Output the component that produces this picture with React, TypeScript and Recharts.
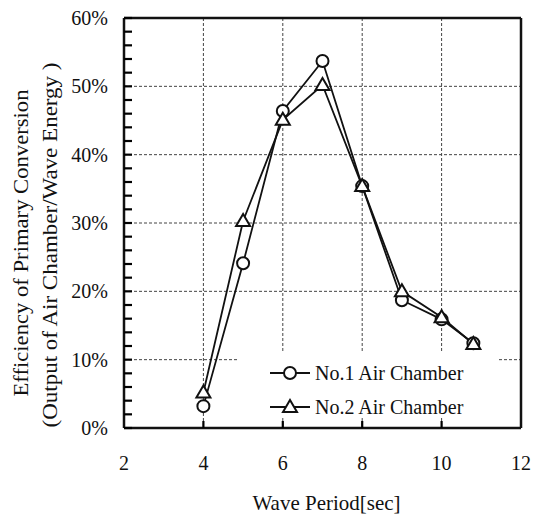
import React from "react";
import {
  CartesianGrid,
  Legend,
  Line,
  LineChart,
  ReferenceLine,
  XAxis,
  YAxis,
} from "recharts";

// wave period [sec]
const periods = [4, 5, 6, 7, 8, 9, 10, 10.8];
// efficiency of primary conversion [%]
const chamber1 = [3.2, 24.1, 46.4, 53.7, 35.4, 18.7, 15.9, 12.4];
const chamber2 = [5.2, 30.3, 45.1, 50.2, 35.4, 20.0, 16.2, 12.3];

const seriesNames = ["No.1 Air Chamber", "No.2 Air Chamber"];

const xTicks = [2, 4, 6, 8, 10, 12];
const yTicks = [
  0, 2, 4, 6, 8, 10, 12, 14, 16, 18, 20, 22, 24, 26, 28, 30, 32, 34, 36, 38,
  40, 42, 44, 46, 48, 50, 52, 54, 56, 58, 60,
];
const yGrid = [10, 20, 30, 40, 50];
const xGrid = [4, 6, 8, 10];

const xTitle = "Wave Period[sec]";
const yTitle1 = "Efficiency of Primary Conversion";
const yTitle2 = "(Output of Air Chamber/Wave Energy )";

const data = periods.map((p, i) => ({
  period: p,
  no1: chamber1[i],
  no2: chamber2[i],
}));

const FONT = "'Liberation Serif', 'Times New Roman', serif";
const INK = "#111";

const W = 533;
const H = 516;
const Y_AXIS_W = 124;
const X_AXIS_H = 88;
const AXIS_X = Y_AXIS_W; // left margin is 0
const AXIS_Y = H - X_AXIS_H; // bottom margin is 0

// left axis: small inward ticks every 2%, labels every 10%
const YTick = (props: any) => {
  const { y, payload } = props;
  const v = payload.value;
  return (
    <g>
      <path d={`M${AXIS_X},${y}H${AXIS_X + 8}`} stroke="#000" strokeWidth={2.2} />
      {v % 10 === 0 && (
        <text
          x={AXIS_X - 16}
          y={y + 7}
          textAnchor="end"
          fontFamily={FONT}
          fontSize={20}
          fill={INK}
        >
          {v}%
        </text>
      )}
    </g>
  );
};

const XTick = (props: any) => {
  const { x, payload } = props;
  const v = payload.value;
  const inner = v > 2 && v < 12;
  return (
    <g>
      {inner && (
        <path d={`M${x},${AXIS_Y}V${AXIS_Y - 7}`} stroke="#000" strokeWidth={2.2} />
      )}
      <text
        x={x}
        y={AXIS_Y + 42}
        textAnchor="middle"
        fontFamily={FONT}
        fontSize={20}
        fill={INK}
      >
        {v}
      </text>
    </g>
  );
};

const XTitle = (props: any) => {
  const { viewBox } = props;
  const cx = viewBox.x + viewBox.width / 2 + 4;
  return (
    <text
      x={cx}
      y={AXIS_Y + 82}
      textAnchor="middle"
      fontFamily={FONT}
      fontSize={22}
      fill={INK}
      textLength={148}
      lengthAdjust="spacingAndGlyphs"
    >
      {xTitle}
    </text>
  );
};

const YTitle = (props: any) => {
  const { viewBox } = props;
  const cy = viewBox.y + viewBox.height / 2 + 20;
  return (
    <g>
      <text
        x={28}
        y={cy}
        transform={`rotate(-90 28 ${cy})`}
        textAnchor="middle"
        fontFamily={FONT}
        fontSize={20}
        fill={INK}
        textLength={307}
        lengthAdjust="spacingAndGlyphs"
      >
        {yTitle1}
      </text>
      <text
        x={57}
        y={cy + 2}
        transform={`rotate(-90 57 ${cy + 2})`}
        textAnchor="middle"
        fontFamily={FONT}
        fontSize={20}
        fill={INK}
        textLength={365}
        lengthAdjust="spacingAndGlyphs"
      >
        {yTitle2}
      </text>
    </g>
  );
};

const Triangle = (props: any) => {
  const { cx, cy, index } = props;
  if (cx == null || cy == null) return <g key={index} />;
  return (
    <polygon
      key={index}
      points={`${cx},${cy - 7} ${cx - 7},${cy + 5} ${cx + 7},${cy + 5}`}
      fill="#fff"
      stroke={INK}
      strokeWidth={2}
    />
  );
};

const Circle = (props: any) => {
  const { cx, cy, index } = props;
  if (cx == null || cy == null) return <g key={index} />;
  return (
    <circle key={index} cx={cx} cy={cy} r={6} fill="#fff" stroke={INK} strokeWidth={2} />
  );
};

const LegendIcon = ({ kind }: { kind: string }) => (
  <svg width={44} height={24} style={{ display: "block" }}>
    <path d="M2,12H42" stroke={INK} strokeWidth={1.8} />
    {kind === "no1" ? (
      <circle cx={22} cy={12} r={6} fill="#fff" stroke={INK} strokeWidth={2} />
    ) : (
      <polygon points="22,5 15,17 29,17" fill="#fff" stroke={INK} strokeWidth={2} />
    )}
  </svg>
);

const LegendBox = (props: any) => {
  const { payload } = props;
  return (
    <div
      style={{
        width: 260,
        height: 66,
        background: "#fff",
        position: "relative",
      }}
    >
      {(payload || []).map((entry: any, i: number) => (
        <div
          key={entry.value}
          style={{
            position: "absolute",
            left: 31,
            top: 9 + i * 34,
            height: 24,
            display: "flex",
            alignItems: "center",
            fontFamily: FONT,
            fontSize: 20,
            color: INK,
            whiteSpace: "nowrap",
          }}
        >
          <LegendIcon kind={entry.dataKey} />
          <span style={{ marginLeft: 3 }}>{entry.value}</span>
        </div>
      ))}
    </div>
  );
};

export default function App() {
  return (
    <div style={{ position: "absolute", left: 0, top: 0, background: "#fff" }}>
      <LineChart
        width={W}
        height={H}
        data={data}
        margin={{ top: 18, right: 12, left: 0, bottom: 0 }}
      >
        <CartesianGrid
          horizontalValues={yGrid}
          verticalValues={xGrid}
          stroke="#444"
          strokeDasharray="3 2"
          strokeWidth={1}
        />
        <XAxis
          dataKey="period"
          type="number"
          domain={[2, 12]}
          ticks={xTicks}
          height={X_AXIS_H}
          tickSize={0}
          tickMargin={0}
          tickLine={false}
          tick={<XTick />}
          axisLine={{ stroke: INK, strokeWidth: 2.5 }}
          label={<XTitle />}
        />
        <YAxis
          type="number"
          domain={[0, 60]}
          ticks={yTicks}
          width={Y_AXIS_W}
          interval={0}
          minTickGap={0}
          tickSize={0}
          tickMargin={0}
          tickLine={false}
          tick={<YTick />}
          axisLine={{ stroke: INK, strokeWidth: 2.5 }}
          label={<YTitle />}
        />
        <ReferenceLine y={60} stroke={INK} strokeWidth={2.5} />
        <ReferenceLine x={12} stroke={INK} strokeWidth={2.5} />
        <Line
          dataKey="no1"
          name={seriesNames[0]}
          stroke={INK}
          strokeWidth={1.8}
          dot={<Circle />}
          isAnimationActive={false}
        />
        <Line
          dataKey="no2"
          name={seriesNames[1]}
          stroke={INK}
          strokeWidth={1.8}
          dot={<Triangle />}
          isAnimationActive={false}
        />
        <Legend
          layout="vertical"
          align="center"
          verticalAlign="middle"
          wrapperStyle={{ left: 237, top: 352 }}
          content={<LegendBox />}
        />
      </LineChart>
    </div>
  );
}
